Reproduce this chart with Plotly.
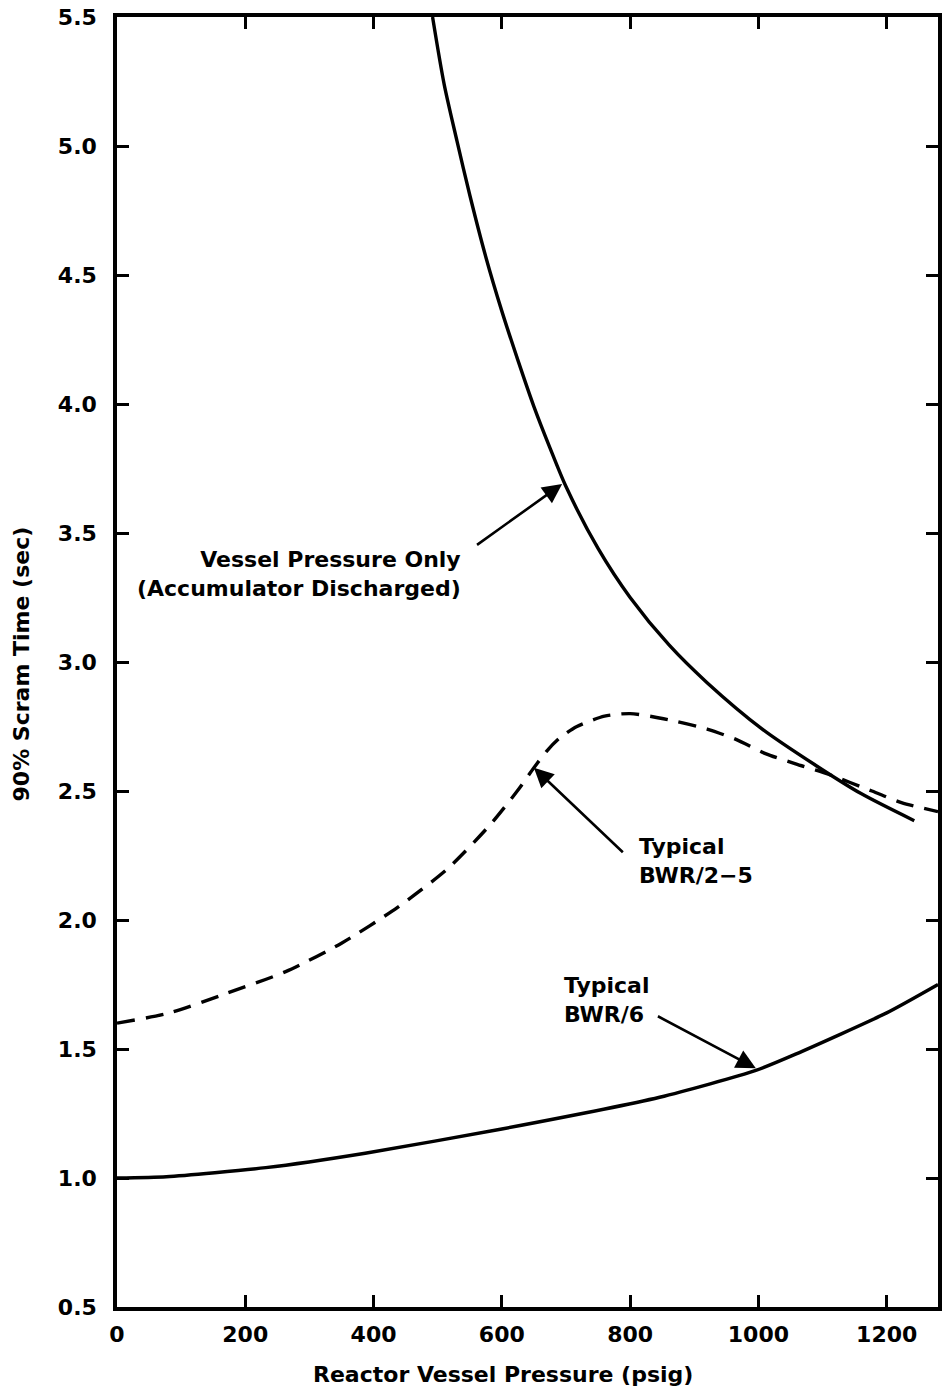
import plotly.graph_objects as go

# Data
vessel_x = [492, 510, 530, 550, 575, 600, 625, 650, 675, 700, 750, 800, 861, 920, 1006, 1089, 1160, 1243]
vessel_y = [5.5, 5.24, 5.02, 4.81, 4.57, 4.36, 4.17, 3.99, 3.83, 3.68, 3.44, 3.25, 3.065, 2.92, 2.74, 2.60, 2.49, 2.385]

bwr25_x = [0, 82, 170, 263, 350, 438, 516, 582, 624, 650, 670, 690, 717, 760, 800, 852, 920, 965, 1011, 1058, 1109, 1177, 1223, 1280]
bwr25_y = [1.60, 1.64, 1.715, 1.80, 1.91, 2.05, 2.20, 2.37, 2.50, 2.59, 2.655, 2.705, 2.75, 2.79, 2.80, 2.78, 2.74, 2.70, 2.645, 2.605, 2.565, 2.50, 2.455, 2.42]

bwr6_x = [0, 77, 232, 387, 600, 846, 996, 1058, 1200, 1280]
bwr6_y = [1.0, 1.005, 1.04, 1.096, 1.19, 1.313, 1.417, 1.48, 1.64, 1.75]

x_ticks = [0, 200, 400, 600, 800, 1000, 1200]
y_ticks = [0.5, 1.0, 1.5, 2.0, 2.5, 3.0, 3.5, 4.0, 4.5, 5.0, 5.5]

FONT = "DejaVu Sans"
FS = 22

fig = go.Figure()
fig.add_trace(go.Scatter(x=vessel_x, y=vessel_y, mode="lines",
                         line=dict(color="black", width=3.4, shape="spline", smoothing=0.8)))
fig.add_trace(go.Scatter(x=bwr25_x, y=bwr25_y, mode="lines",
                         line=dict(color="black", width=3.4, dash="18px,11px", shape="spline", smoothing=0.7)))
fig.add_trace(go.Scatter(x=bwr6_x, y=bwr6_y, mode="lines",
                         line=dict(color="black", width=3.4, shape="spline", smoothing=0.6)))

axis_common = dict(
    showline=True, linecolor="black", linewidth=3.5, mirror="ticks",
    ticks="inside", ticklen=12, tickwidth=2.5, tickcolor="black",
    showgrid=False, zeroline=False,
    tickfont=dict(family=FONT, size=FS, color="black"),
)

fig.update_layout(
    width=947, height=1390,
    margin=dict(l=117, r=5, t=15, b=83),
    paper_bgcolor="white", plot_bgcolor="white",
    showlegend=False,
    font=dict(family=FONT, size=FS, color="black"),
    xaxis=dict(range=[0, 1280], tickvals=x_ticks,
               ticktext=[f"<b>{v}</b>" for v in x_ticks], ticklabelstandoff=5, **axis_common),
    yaxis=dict(range=[0.5, 5.5], tickvals=y_ticks,
               ticktext=[f"<b>{v:.1f}</b>" for v in y_ticks], ticklabelstandoff=12, **axis_common),
)

ann_font = dict(family=FONT, size=FS, color="black")

# Axis titles
fig.add_annotation(text="<b>Reactor Vessel Pressure (psig)</b>", xref="paper", yref="paper",
                   x=(505 - 117) / 825, y=-(1375 - 1307) / 1292, yanchor="middle",
                   showarrow=False, font=ann_font)
fig.add_annotation(text="<b>90% Scram Time (sec)</b>", xref="paper", yref="paper",
                   x=-(117 - 22) / 825, y=(1307 - 663) / 1292, textangle=-90,
                   xanchor="center", yanchor="middle", showarrow=False, font=ann_font)

# Curve labels
fig.add_annotation(text="<b>Vessel Pressure Only</b><br><b>(Accumulator Discharged)</b>",
                   x=539, y=3.34, xref="x", yref="y", xanchor="right", yanchor="middle",
                   align="right", showarrow=False, font=ann_font)
fig.add_annotation(text="<b>Typical</b><br><b>BWR/2\u22125</b>",
                   x=810, y=2.23, xref="x", yref="y", xanchor="left", yanchor="middle",
                   align="left", showarrow=False, font=ann_font)
fig.add_annotation(text="<b>Typical</b><br><b>BWR/6</b>",
                   x=694, y=1.69, xref="x", yref="y", xanchor="left", yanchor="middle",
                   align="left", showarrow=False, font=ann_font)

# Arrows
arrow_common = dict(xref="x", yref="y", axref="x", ayref="y", text="", showarrow=True,
                    arrowhead=2, arrowsize=1.5, arrowwidth=2.6, arrowcolor="black")
fig.add_annotation(x=694, y=3.69, ax=559, ay=3.45, **arrow_common)
fig.add_annotation(x=650, y=2.59, ax=791, ay=2.257, **arrow_common)
fig.add_annotation(x=996, y=1.425, ax=841, ay=1.63, **arrow_common)

fig.write_html("out.html")
